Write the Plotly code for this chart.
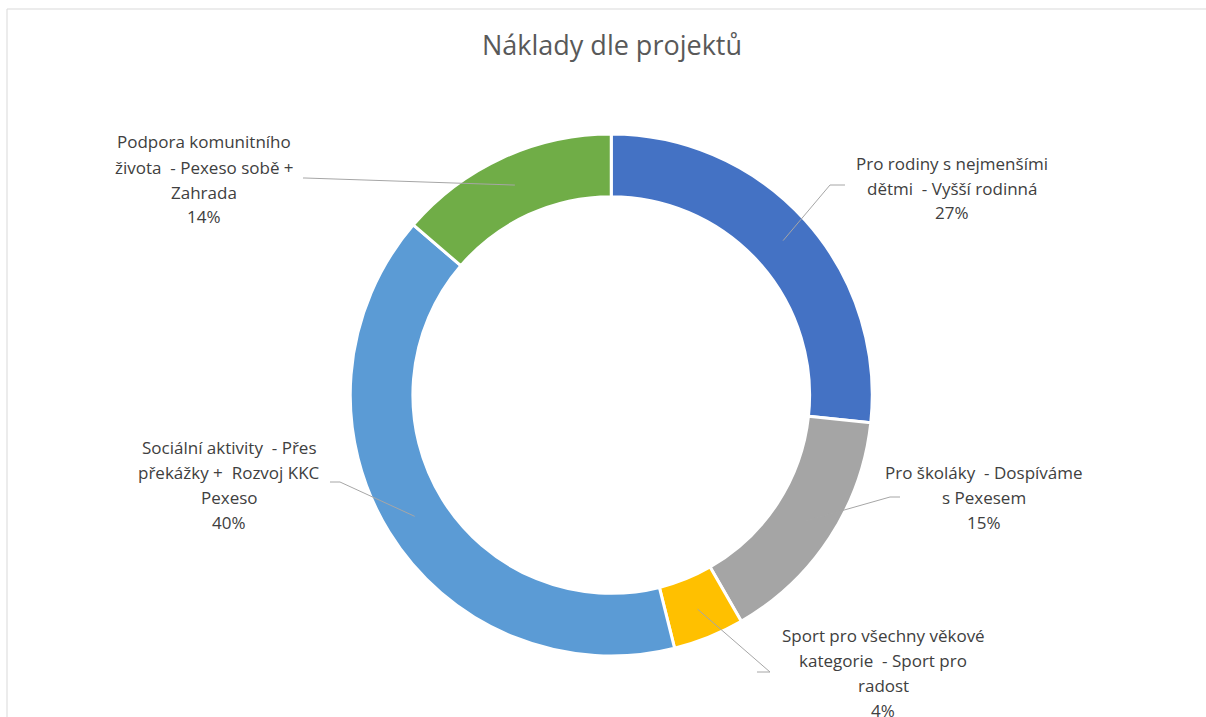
import math
import plotly.graph_objects as go

# ---- data ----
categories = [
    "Pro rodiny s nejmenšími dětmi - Vyšší rodinná",
    "Pro školáky - Dospíváme s Pexesem",
    "Sport pro všechny věkové kategorie - Sport pro radost",
    "Sociální aktivity - Přes překážky + Rozvoj KKC Pexeso",
    "Podpora komunitního života - Pexeso sobě + Zahrada",
]
label_lines = [
    ["Pro rodiny s nejmenšími", "dětmi\u00a0 - Vyšší rodinná"],
    ["Pro školáky\u00a0 - Dospíváme", "s Pexesem"],
    ["Sport pro všechny věkové", "kategorie\u00a0 - Sport pro", "radost"],
    ["Sociální aktivity\u00a0 - Přes", "překážky +\u00a0 Rozvoj KKC", "Pexeso"],
    ["Podpora komunitního", "života\u00a0 - Pexeso sobě +", "Zahrada"],
]
values = [26.7, 15.0, 4.4, 40.2, 13.7]
colors = ["#4472C4", "#A5A5A5", "#FFC000", "#5B9BD5", "#70AD47"]
title_text = "Náklady dle projektů"

# ---- layout constants (pixels, in screenshot coordinates) ----
W, H = 1206, 717
OFF = 0  # page body margin removed via post_script
CX, CY, R = 611.25, 395.0, 261.0
HOLE = 0.76
LEADER_R = 231.0
FONT = "Open Sans"

def px(x):
    return (x - OFF) / W

def py(y):
    return 1 - (y - OFF) / H

# label anchor (center x, first-line center y), line spacing
label_pos = [(952, 163), (984, 472), (883, 635), (229, 447), (204, 142)]
LINE_STEP = 25
# leader line path points near labels (elbow, end)
leader_pts = [
    [(830, 185), (845, 185)],
    [(890, 497), (900, 497)],
    [(770, 672), (757, 672)],
    [(340, 482), (330, 482)],
    [(305, 178), (303, 178)],
]

fig = go.Figure()
fig.add_trace(go.Pie(
    labels=categories,
    values=values,
    hole=HOLE,
    sort=False,
    direction="clockwise",
    rotation=0,
    marker=dict(colors=colors, line=dict(color="white", width=3)),
    textinfo="none",
    showlegend=False,
    domain=dict(x=[px(CX - R), px(CX + R)], y=[py(CY + R), py(CY - R)]),
))

total = sum(values)
annotations = []
shapes = []
cum = 0.0
for i, v in enumerate(values):
    mid = (cum + v / 2) / total
    cum += v
    th = 2 * math.pi * mid
    sx = CX + LEADER_R * math.sin(th)
    sy = CY - LEADER_R * math.cos(th)
    pts = [(sx, sy)] + leader_pts[i]
    path = "M " + " L ".join(f"{px(x):.5f},{py(y):.5f}" for x, y in pts)
    shapes.append(dict(type="path", xref="paper", yref="paper", path=path,
                       line=dict(color="#A6A6A6", width=1)))
    lines = label_lines[i] + [f"{round(v / total * 100)}%"]
    lx, ly = label_pos[i]
    for k, t in enumerate(lines):
        annotations.append(dict(
            x=px(lx), y=py(ly + k * LINE_STEP), xref="paper", yref="paper",
            text=t, showarrow=False, xanchor="center", yanchor="middle",
            font=dict(family=FONT, size=17, color="#404040"),
        ))

# chart area border (top and left visible)
shapes.append(dict(type="line", xref="paper", yref="paper",
                   x0=px(7), y0=py(9), x1=px(W + 40), y1=py(9),
                   line=dict(color="#D9D9D9", width=1)))
shapes.append(dict(type="line", xref="paper", yref="paper",
                   x0=px(7), y0=py(9), x1=px(7), y1=py(H + 40),
                   line=dict(color="#D9D9D9", width=1)))

fig.update_layout(
    width=W, height=H,
    margin=dict(l=0, r=0, t=0, b=0),
    paper_bgcolor="white", plot_bgcolor="white",
    title=dict(text=title_text, x=px(612), y=py(46), xanchor="center",
               yanchor="middle", xref="paper", yref="paper",
               font=dict(family=FONT, size=27, color="#595959")),
    annotations=annotations,
    shapes=shapes,
)

fig.write_html("out.html",
               config={"displayModeBar": False},
               post_script="document.body.style.margin='0';document.body.style.overflow='hidden';")
